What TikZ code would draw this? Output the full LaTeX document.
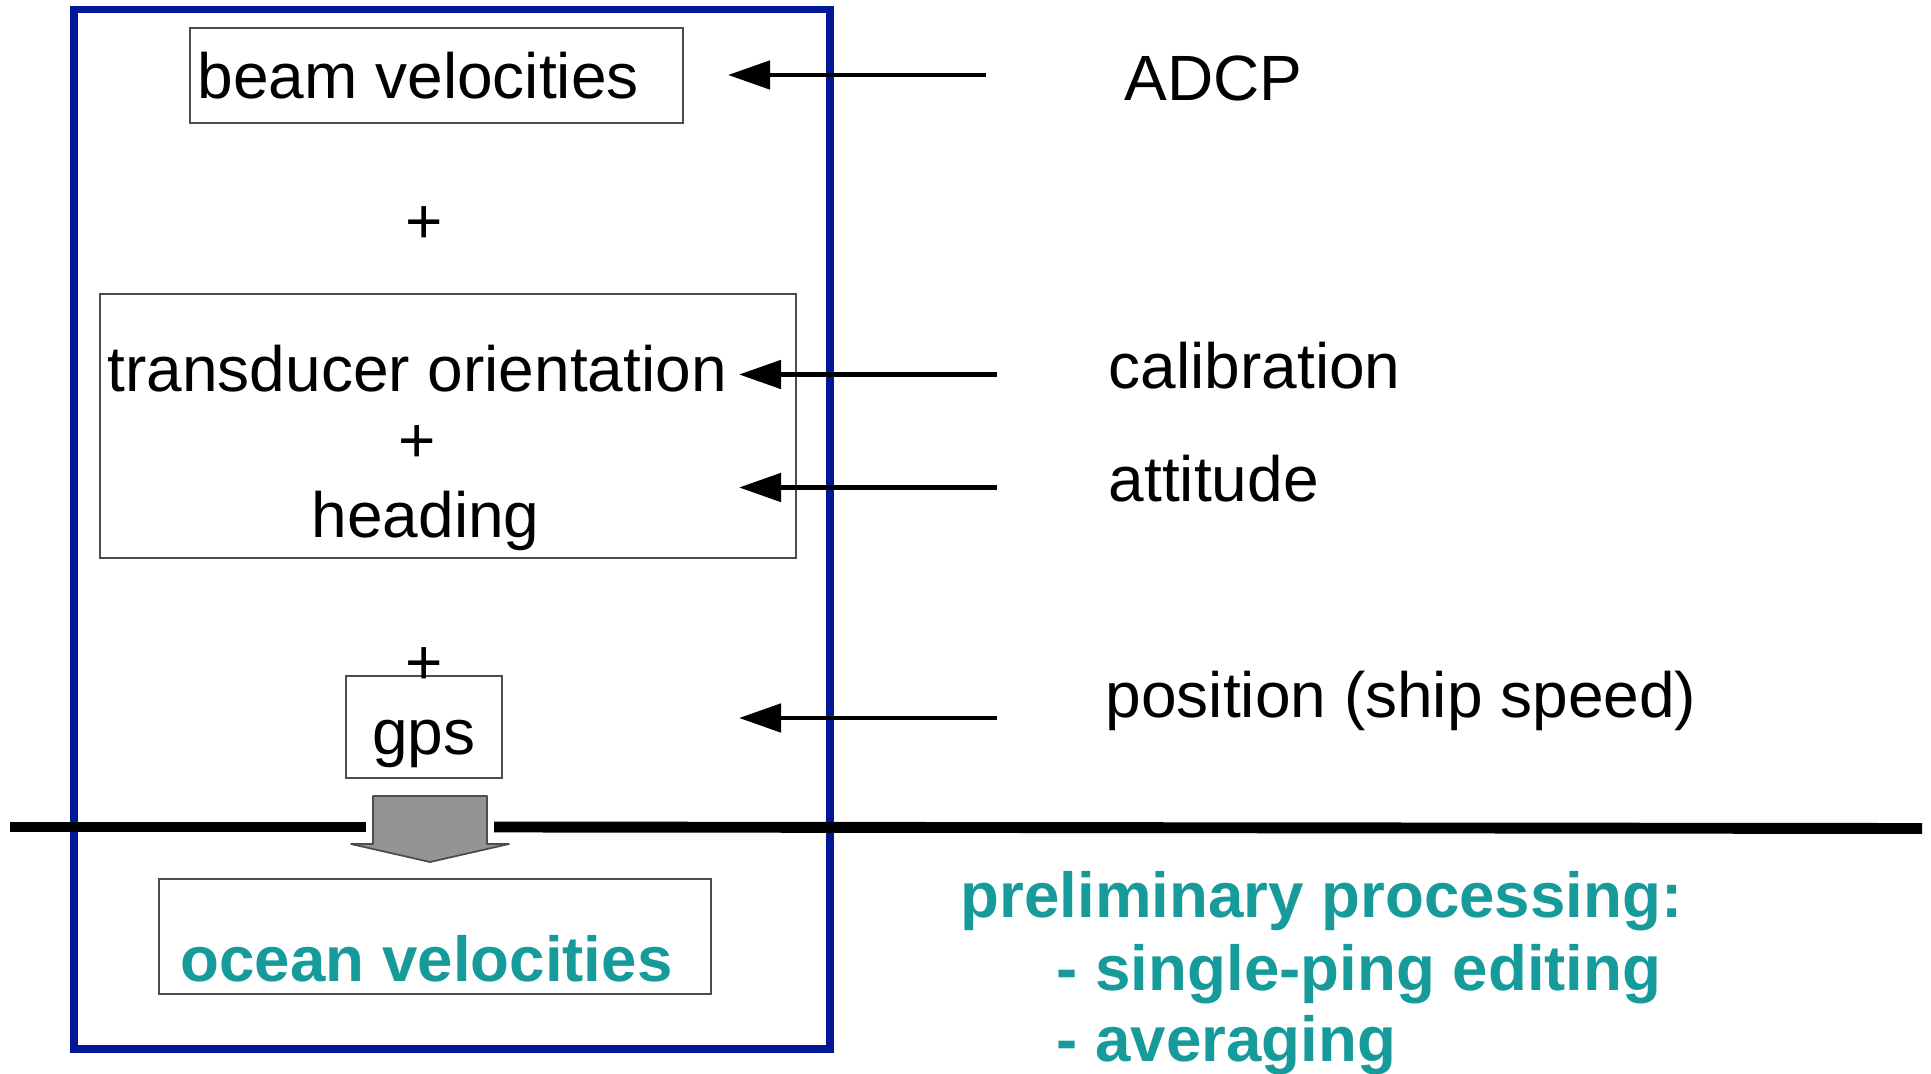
\documentclass[tikz,border=0pt]{standalone}
\usepackage{fontspec}
\setmainfont{Liberation Sans}
\usetikzlibrary{arrows.meta}
\definecolor{frameblue}{RGB}{0,24,150}
\definecolor{oceanteal}{RGB}{22,154,154}
\tikzset{
	box/.style 2 args={draw=black!70,line width=0.5pt,minimum width=#1,minimum height=#2,inner sep=0pt},
	txt/.style={inner sep=0pt,font=\fontsize{18.2}{22}\selectfont,anchor=base west},
	plus/.style={txt,anchor=base},
	hot/.style={txt,text=oceanteal,font=\fontsize{18.1}{22}\selectfont\bfseries},
	feed/.style={line width=1.4pt,-{Triangle[length=4.2mm,width=2.8mm]}}
}

\begin{document}
\begin{tikzpicture}[x=0.01cm,y=0.01cm]
	\useasboundingbox (0,0) rectangle (1931,-1074);
	\draw[frameblue,line width=2pt] (74,-10) rectangle (830,-1049);

	\node [box={4.93cm}{0.95cm}] (beambox) at (436.5,-75.5) {};
	\node [box={6.96cm}{2.64cm}] (orientbox) at (448,-426) {};
	\node [box={1.56cm}{1.02cm}] (gpsbox) at (424,-727) {};
	\node [box={5.52cm}{1.15cm}] (oceanbox) at (435,-936.5) {};

	\node [txt] (beam) at (197,-98.5) {beam velocities};
	\node [plus] (plusa) at (424.5,-244) {+};
	\node [txt] (orient) at (107,-391.6) {transducer orientation};
	\node [plus] (plusb) at (417,-463) {+};
	\node [txt] (heading) at (311,-538) {heading};
	\node [plus] (plusc) at (424.5,-685) {+};
	\node [plus] (gps) at (424,-755) {gps};
	\node [hot] (ocean) at (180,-981.5) {ocean velocities};

	\node [txt] (adcp) at (1124,-101) {ADCP};
	\node [txt] (calib) at (1108,-389) {calibration};
	\node [txt] (attitude) at (1108,-502) {attitude};
	\node [txt] (position) at (1105,-718) {position (ship speed)};

	\node [hot] (prelim) at (960,-917.5) {preliminary processing:};
	\node [hot] (editing) at (1056,-990) {- single-ping editing};
	\node [hot] (averaging) at (1056,-1061.5) {- averaging};

	\coordinate (adcp-from) at (986,-75);
	\coordinate (adcp-to) at (728,-75);
	\coordinate (calib-from) at (997,-374.5);
	\coordinate (calib-to) at (739,-374.5);
	\coordinate (attitude-from) at (997,-487.5);
	\coordinate (attitude-to) at (739,-487.5);
	\coordinate (position-from) at (997,-718);
	\coordinate (position-to) at (739,-718);
	\draw[feed] (adcp-from) -- (adcp-to);
	\draw[feed] (calib-from) -- (calib-to);
	\draw[feed] (attitude-from) -- (attitude-to);
	\draw[feed] (position-from) -- (position-to);

	\coordinate (rule-l) at (10,-827);
	\coordinate (rule-lgap) at (366,-827);
	\coordinate (rule-rgap) at (494,-827);
	\coordinate (rule-r) at (1922,-828.5);
	\draw[line width=3.1pt] (rule-l) -- (rule-lgap);
	\draw[line width=3.1pt] (rule-rgap) -- (rule-r);
	\draw[fill=black!42,draw=black!70,line width=0.5pt,line join=round] (373,-796) -- (487,-796) -- (487,-844) -- (509,-844) -- (430,-862) -- (351,-844) -- (373,-844) -- cycle;
\end{tikzpicture}
\end{document}
